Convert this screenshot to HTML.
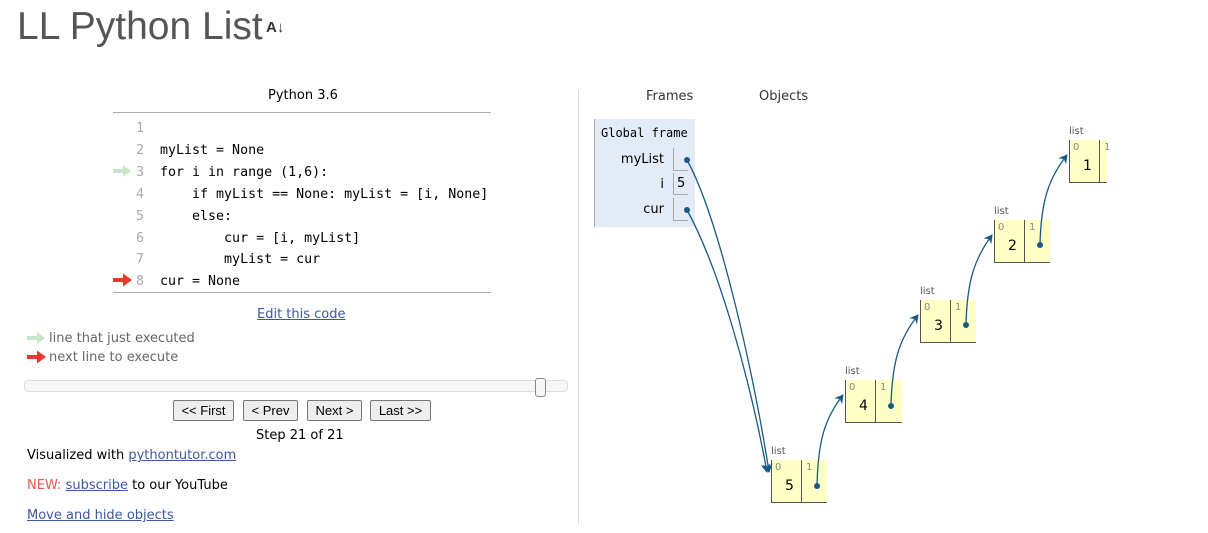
<!DOCTYPE html>
<html><head><meta charset="utf-8"><style>
body{margin:0;width:1208px;height:533px;background:#fff;position:relative;overflow:hidden;font-family:"DejaVu Sans","Liberation Sans",sans-serif;}
.a{position:absolute;white-space:nowrap;}
.mono{font-family:"DejaVu Sans Mono","Liberation Mono",monospace;}
.code{font-size:13.3px;color:#000;}
.ln{color:#aaa;width:20px;text-align:right;}
.btn{position:absolute;top:400px;height:19px;border:1px solid #777;background:#eee;border-radius:2px;font-size:13px;font-family:"Liberation Sans",sans-serif;text-align:center;line-height:19px;color:#000;}
a{color:#3d58a2;}
.lst{position:absolute;height:42px;background:#ffffc6;border-left:1px solid #555;border-bottom:1px solid #555;}
.cell{position:absolute;top:0;height:42px;}
.idx{position:absolute;left:3px;top:2px;font-size:10px;color:#888;}
.val{position:absolute;left:13px;top:18px;font-size:14px;}
.lbl{position:absolute;font-size:10px;color:#555;}
</style></head><body>
<div class="a" style="left:17px;top:5px;font-size:39px;color:#555;font-family:'Liberation Sans',sans-serif;">LL Python List</div>
<div class="a" style="left:266px;top:19px;font-size:15px;font-weight:bold;color:#333;font-family:'Liberation Sans',sans-serif;">A&#x2193;</div>

<div class="a" style="left:268px;top:88px;font-size:13px;">Python 3.6</div>
<div class="a" style="left:113px;top:112px;width:378px;border-top:1px solid #aaa;"></div>
<div class="a" style="left:113px;top:292px;width:378px;border-top:1px solid #aaa;"></div>

<div class="a mono code" style="left:124px;top:118px;line-height:21.9px;">
<div><span class="ln" style="display:inline-block">1</span></div>
<div><span class="ln" style="display:inline-block">2</span>&nbsp;&nbsp;myList = None</div>
<div><span class="ln" style="display:inline-block">3</span>&nbsp;&nbsp;for i in range (1,6):</div>
<div><span class="ln" style="display:inline-block">4</span>&nbsp;&nbsp;&nbsp;&nbsp;&nbsp;&nbsp;if myList == None: myList = [i, None]</div>
<div><span class="ln" style="display:inline-block">5</span>&nbsp;&nbsp;&nbsp;&nbsp;&nbsp;&nbsp;else:</div>
<div><span class="ln" style="display:inline-block">6</span>&nbsp;&nbsp;&nbsp;&nbsp;&nbsp;&nbsp;&nbsp;&nbsp;&nbsp;&nbsp;cur = [i, myList]</div>
<div><span class="ln" style="display:inline-block">7</span>&nbsp;&nbsp;&nbsp;&nbsp;&nbsp;&nbsp;&nbsp;&nbsp;&nbsp;&nbsp;myList = cur</div>
<div><span class="ln" style="display:inline-block">8</span>&nbsp;&nbsp;cur = None</div>
</div>
<svg class="a" style="left:0;top:0" width="1208" height="533">
<path d="M113 169h10v-4l8 6-8 6v-4h-10z" fill="#c7e6c7"/>
<path d="M113 278h10v-4.5l9 6.5-9 6.5v-4.5h-10z" fill="#e8392d"/>
<path d="M27 336h10v-4l8 6-8 6v-4h-10z" fill="#c7e6c7"/>
<path d="M27 355h10v-4.5l9 6.5-9 6.5v-4.5h-10z" fill="#e8392d"/>
</svg>

<div class="a" style="left:257px;top:307px;font-size:13px;"><a style="color:#3d58a2;text-decoration:underline">Edit this code</a></div>
<div class="a" style="left:49px;top:331px;font-size:13px;color:#666;">line that just executed</div>
<div class="a" style="left:49px;top:350px;font-size:13px;color:#666;">next line to execute</div>

<div class="a" style="left:24px;top:380px;width:542px;height:10px;border:1px solid #ddd;border-radius:4px;background:#f6f6f6;"></div>
<div class="a" style="left:535px;top:378px;width:9px;height:17px;border:1px solid #888;border-radius:3px;background:#f6f6f6;"></div>

<div class="btn" style="left:173px;width:59px;">&lt;&lt; First</div>
<div class="btn" style="left:243px;width:53px;">&lt; Prev</div>
<div class="btn" style="left:307px;width:53px;">Next &gt;</div>
<div class="btn" style="left:370px;width:59px;">Last &gt;&gt;</div>
<div class="a" style="left:256px;top:428px;font-size:13px;">Step 21 of 21</div>
<div class="a" style="left:27px;top:448px;font-size:13px;">Visualized with <a style="text-decoration:underline">pythontutor.com</a></div>
<div class="a" style="left:27px;top:478px;font-size:13px;"><span style="color:#e55">NEW:</span> <a style="text-decoration:underline">subscribe</a> to our YouTube</div>
<div class="a" style="left:27px;top:508px;font-size:13px;"><a style="text-decoration:underline">Move and hide objects</a></div>

<div class="a" style="left:578px;top:90px;height:435px;border-left:1px solid #ddd;"></div>

<div class="a" style="left:646px;top:89px;font-size:13px;color:#333;">Frames</div>
<div class="a" style="left:759px;top:89px;font-size:13px;color:#333;">Objects</div>

<div class="a" style="left:594px;top:119px;width:100px;height:108px;background:#e2ebf6;border-left:1px solid #aaa;"></div>
<div class="a mono" style="left:601px;top:126px;font-size:12px;">Global frame</div>
<div class="a" style="left:600px;top:152px;width:64px;text-align:right;font-size:13px;">myList</div>
<div class="a" style="left:600px;top:177px;width:64px;text-align:right;font-size:13px;">i</div>
<div class="a" style="left:600px;top:202px;width:64px;text-align:right;font-size:13px;">cur</div>
<div class="a" style="left:673px;top:148px;width:14px;height:22px;border-left:1px solid #aaa;border-bottom:1px solid #aaa;"></div>
<div class="a" style="left:673px;top:173px;width:14px;height:22px;border-left:1px solid #aaa;border-bottom:1px solid #aaa;font-size:13px;line-height:22px;padding-left:3px;box-sizing:border-box;width:15px">5</div>
<div class="a" style="left:673px;top:198px;width:14px;height:22px;border-left:1px solid #aaa;border-bottom:1px solid #aaa;"></div>

<div class="lbl" style="left:771px;top:446px;">list</div>
<div class="lst" style="left:771px;top:460px;width:55px;"><div class="cell" style="left:0;width:29px;border-right:1px solid #555"><span class="idx">0</span><span class="val">5</span></div><span class="idx" style="left:34px">1</span></div>
<div class="lbl" style="left:845px;top:366px;">list</div>
<div class="lst" style="left:845px;top:380px;width:56px;"><div class="cell" style="left:0;width:29px;border-right:1px solid #555"><span class="idx">0</span><span class="val">4</span></div><span class="idx" style="left:34px">1</span></div>
<div class="lbl" style="left:920px;top:286px;">list</div>
<div class="lst" style="left:920px;top:300px;width:55px;"><div class="cell" style="left:0;width:29px;border-right:1px solid #555"><span class="idx">0</span><span class="val">3</span></div><span class="idx" style="left:34px">1</span></div>
<div class="lbl" style="left:994px;top:206px;">list</div>
<div class="lst" style="left:994px;top:220px;width:55px;"><div class="cell" style="left:0;width:29px;border-right:1px solid #555"><span class="idx">0</span><span class="val">2</span></div><span class="idx" style="left:34px">1</span></div>
<div class="lbl" style="left:1069px;top:126px;">list</div>
<div class="lst" style="left:1069px;top:140px;width:37px;"><div class="cell" style="left:0;width:29px;border-right:1px solid #555"><span class="idx">0</span><span class="val">1</span></div><span class="idx" style="left:34px">1</span></div>

<svg class="a" style="left:0;top:0" width="1208" height="533">
<defs><marker id="ar" markerWidth="10" markerHeight="10" refX="8" refY="5" orient="auto" markerUnits="userSpaceOnUse"><path d="M0 0L9 5L0 10L3 5z" fill="#1a5a80"/></marker></defs>
<g stroke="#1a5a80" stroke-width="1.3" fill="none" marker-end="url(#ar)">
<path d="M687 160C720 220 755 380 769 472"/>
<path d="M687 210C720 270 750 380 767 472"/>
<path d="M817 486C818 440 825 418 843 395"/>
<path d="M891 406C892 360 900 338 918 315"/>
<path d="M966 325C967 280 975 258 992 235"/>
<path d="M1040 245C1041 200 1049 178 1067 155"/>
</g>
<g fill="#1a5a80"><circle cx="687" cy="160" r="3"/><circle cx="687" cy="210" r="3"/><circle cx="817" cy="486" r="3"/><circle cx="891" cy="406" r="3"/><circle cx="966" cy="325" r="3"/><circle cx="1040" cy="245" r="3"/></g>
</svg>
</body></html>
